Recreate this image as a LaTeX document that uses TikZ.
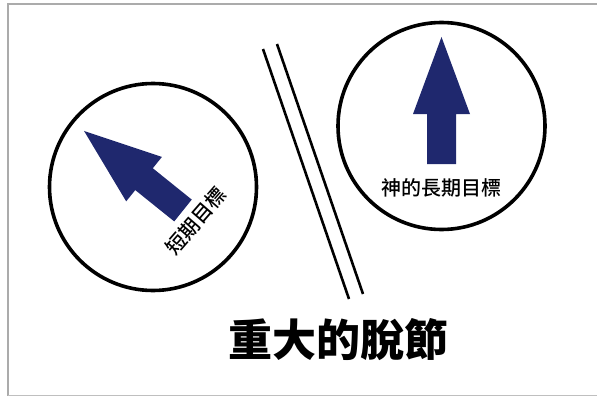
\documentclass[tikz,border=0pt]{standalone}
\usepackage{fontspec}
\usepackage{tikz}
\newfontfamily\cjk{Noto Sans CJK TC}
\newfontfamily\cjkmed{Noto Sans CJK TC Medium}
\definecolor{goalblue}{RGB}{31,40,110}

\begin{document}
\begin{tikzpicture}[x=1pt,y=-1pt,every text node part/.style={align=center},goal/.style={circle,draw=black,line width=3.6pt,minimum size=207pt,inner sep=0pt},label/.style={font=\cjkmed\fontsize{20}{20}\selectfont},frame/.style={draw=black!33,line width=2pt}]
\useasboundingbox (0,0) rectangle (597,396);
\draw[frame] (597,4.5) -- (7.5,4.5) -- (7.5,395.5);
\draw[frame,line width=1pt,draw=black!25] (7.5,395.5) -- (597,395.5);
\node[goal] (short) at (153,187) {};
\node[goal] (long) at (441.5,126) {};
% arrows
\fill[goalblue,shift={(183,210.5)},rotate=141.2] (0,-14) -- (50,-14) -- (50,-28.5) -- (127,0) -- (50,28.5) -- (50,14) -- (0,14) -- cycle;
\fill[goalblue,shift={(441.5,164)},rotate=90] (0,-14.5) -- (50,-14.5) -- (50,-28.5) -- (127,0) -- (50,28.5) -- (50,14.5) -- (0,14.5) -- cycle;
\node[label,rotate=49] (shortlabel) at (196,221) {短期目標};
\node[label] (longlabel) at (441.5,188) {神的長期目標};
% the gap
\draw[line width=2.6pt] (263,49) -- (349,299);
\draw[line width=2.6pt] (277,44) -- (363,294);
\node[font=\cjk\bfseries\fontsize{44}{44}\selectfont] (gap) at (338,340) {重大的脫節};
\end{tikzpicture}
\end{document}
